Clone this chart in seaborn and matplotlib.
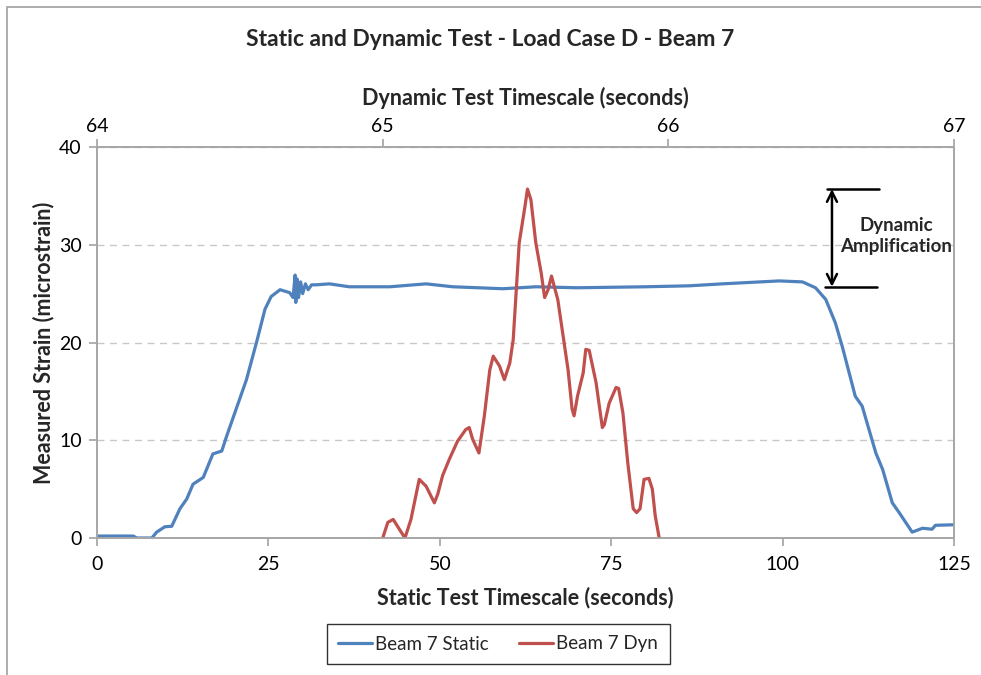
import numpy as np
import pandas as pd
import matplotlib
matplotlib.use("Agg")
import matplotlib.pyplot as plt
import seaborn as sns
from matplotlib.patches import Rectangle

sns.set_theme(style="white")
plt.rcParams["font.family"] = ["Lato", "DejaVu Sans"]

# static test: time (s) and strain
static_t = [0.0, 2.0, 4.0, 5.3, 5.8, 8.0, 8.7, 9.9, 10.9, 12.1, 13.1, 14.0, 15.5,
            16.9, 18.2, 18.9, 20.3, 21.8, 23.3, 24.5, 25.4, 26.7, 28.1, 28.6, 28.9,
            29.0, 29.2, 29.4, 29.7, 30.0, 30.4, 30.8, 31.3, 32.0, 33.9, 36.8, 42.7,
            48.0, 51.9, 59.2, 64.0, 70.0, 80.0, 86.4, 91.2, 99.5, 102.9, 104.8, 106.3,
            107.7, 108.7, 110.6, 111.6, 113.6, 114.6, 116.0, 117.0, 118.9, 120.4,
            121.8, 122.3, 124.8, 125.0]
static_strain = [0.2, 0.2, 0.2, 0.2, 0.0, 0.0, 0.6, 1.15, 1.2, 3.0, 4.0, 5.5, 6.2,
                 8.6, 8.9, 10.4, 13.2, 16.2, 20.1, 23.4, 24.7, 25.4, 25.1, 24.6, 26.9,
                 24.1, 26.5, 24.6, 26.2, 25.0, 26.0, 25.4, 25.9, 25.9, 26.0, 25.7, 25.7,
                 26.0, 25.7, 25.5, 25.7, 25.6, 25.7, 25.8, 26.0, 26.3, 26.2, 25.6, 24.4,
                 22.0, 19.6, 14.5, 13.5, 8.7, 7.0, 3.6, 2.6, 0.6, 1.0,
                 0.9, 1.3, 1.35, 1.35]

# dynamic test: time (s) and strain
dyn_t = [65.001, 65.018, 65.037, 65.054, 65.078, 65.099, 65.128, 65.152, 65.181,
         65.193, 65.210, 65.234, 65.262, 65.291, 65.303, 65.315, 65.337, 65.356,
         65.375, 65.387, 65.409, 65.426, 65.445, 65.457, 65.478, 65.498, 65.507,
         65.519, 65.536, 65.555, 65.567, 65.579, 65.591, 65.601, 65.613, 65.632,
         65.649, 65.663, 65.670, 65.682, 65.702, 65.711, 65.723, 65.747, 65.769,
         65.776, 65.793, 65.817, 65.826, 65.841, 65.858, 65.877, 65.889, 65.901,
         65.915, 65.932, 65.944, 65.954, 65.968]
dyn_strain = [0.07, 1.6, 1.9, 1.1, 0.0, 1.9, 6.0, 5.3, 3.6,
              4.5, 6.4, 8.1, 9.9, 11.1, 11.3, 10.1, 8.7, 12.5,
              17.2, 18.6, 17.6, 16.2, 17.9, 20.3, 30.2, 33.9, 35.7,
              34.6, 30.2, 27.1, 24.6, 25.4, 26.8, 25.7, 24.4, 20.6,
              17.2, 13.2, 12.5, 14.5, 16.9, 19.3, 19.2, 15.9, 11.3,
              11.6, 13.8, 15.4, 15.3, 12.8, 7.7, 3.0, 2.6, 3.0,
              6.0, 6.1, 5.0, 2.3, 0.0]

static_df = pd.DataFrame({"t": static_t, "strain": static_strain})
dyn_df = pd.DataFrame({"t": dyn_t, "strain": dyn_strain})

blue = "#4f81bd"
red = "#c0504d"
grey = "#a6a6a6"

fig = plt.figure(figsize=(9.81, 6.75), dpi=100)
ax = fig.add_axes([97 / 981, 1 - 538 / 675, 857 / 981, 391 / 675])

# outer chart border
fig.patches.append(Rectangle((7 / 981, -0.1), 1.2, 1 - 7 / 675 + 0.1,
                             transform=fig.transFigure, fill=False,
                             edgecolor="#a0a0a0", linewidth=1.2))

sns.lineplot(data=static_df, x="t", y="strain", ax=ax, color=blue, linewidth=2.3,
             label="Beam 7 Static", legend=False)
ax.set_xlim(0, 125)
ax.set_ylim(0, 40)
ax.set_xticks([0, 25, 50, 75, 100, 125])
ax.set_yticks([0, 10, 20, 30, 40])
for yv in [10, 20, 30, 40]:
    ax.axhline(yv, color="#c8c8c8", linestyle=(0, (5, 4)), linewidth=1, zorder=0)

for s in ax.spines.values():
    s.set_color(grey)
    s.set_linewidth(1.2)
ax.tick_params(axis="both", direction="out", length=6, color=grey, labelsize=14,
               labelcolor="black", left=True, bottom=True, pad=5)
ax.tick_params(axis="x", pad=7)
ax.set_xlabel("Static Test Timescale (seconds)", fontsize=15.5, fontweight="bold", labelpad=10)
ax.set_ylabel("Measured Strain (microstrain)", fontsize=15.5, fontweight="bold", labelpad=3)

ax2 = ax.twiny()
sns.lineplot(data=dyn_df, x="t", y="strain", ax=ax2, color=red, linewidth=2.3,
             label="Beam 7 Dyn", legend=False)
ax2.set_xlim(64, 67)
ax2.set_ylim(0, 40)
ax2.set_xticks([64, 65, 66, 67])
for s in ax2.spines.values():
    s.set_color(grey)
    s.set_linewidth(1.2)
ax2.tick_params(axis="x", direction="out", length=6, color=grey, labelsize=14,
                labelcolor="black", top=True, pad=3)
ax2.set_xlabel("Dynamic Test Timescale (seconds)", fontsize=15.5, fontweight="bold", labelpad=9)

# dynamic amplification marker
peak = max(dyn_strain)
plateau = 25.7
ax.plot([106.5, 114.0], [peak, peak], color="black", linewidth=1.8, clip_on=False)
ax.plot([106.2, 113.8], [plateau, plateau], color="black", linewidth=1.8, clip_on=False)
ax.annotate("", xy=(107.2, peak), xytext=(107.2, plateau),
            arrowprops=dict(arrowstyle="<->", color="black", lw=1.8,
                            shrinkA=0, shrinkB=0, mutation_scale=18))
ax.text(116.6, 30.9, "Dynamic\nAmplification", ha="center", va="center",
        fontsize=13.5, fontweight="bold", linespacing=1.25)

fig.text(490 / 981, 1 - 40 / 675, "Static and Dynamic Test - Load Case D - Beam 7",
         ha="center", va="center", fontsize=16.5, fontweight="bold")

h1, l1 = ax.get_legend_handles_labels()
h2, l2 = ax2.get_legend_handles_labels()
leg = fig.legend(h1 + h2, l1 + l2, loc="center", bbox_to_anchor=(498 / 981, 1 - 644 / 675),
                 ncol=2, fontsize=13.5, frameon=True, fancybox=False, handlelength=1.8,
                 columnspacing=1.6, handletextpad=0.2, borderpad=0.6, borderaxespad=0)
leg.get_frame().set_edgecolor("black")
leg.get_frame().set_linewidth(1.0)

fig.savefig("out.png", dpi=100)
